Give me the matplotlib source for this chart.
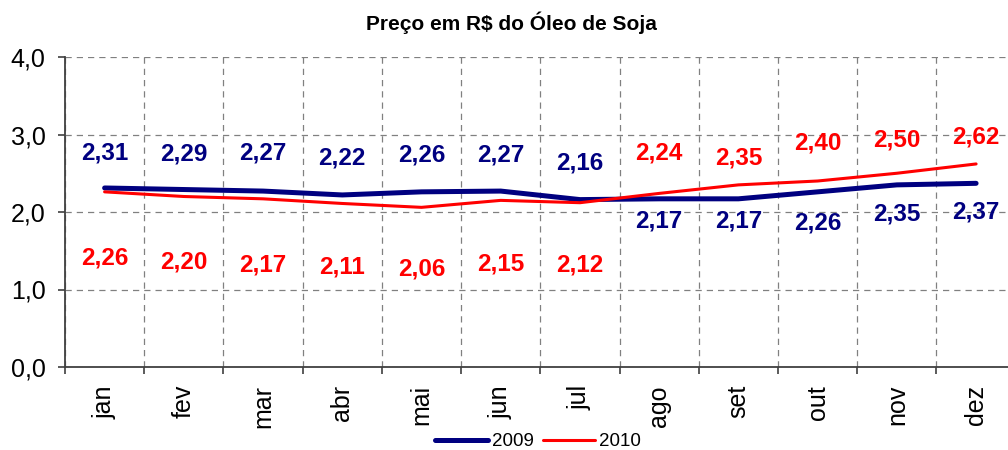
import matplotlib
matplotlib.use("Agg")
import matplotlib.pyplot as plt
import numpy as np

plt.rcParams['font.family'] = ['Liberation Sans', 'DejaVu Sans']

months = ['jan', 'fev', 'mar', 'abr', 'mai', 'jun', 'jul', 'ago', 'set', 'out', 'nov', 'dez']
prices_2009 = [2.31, 2.29, 2.27, 2.22, 2.26, 2.27, 2.16, 2.17, 2.17, 2.26, 2.35, 2.37]
prices_2010 = [2.26, 2.20, 2.17, 2.11, 2.06, 2.15, 2.12, 2.24, 2.35, 2.40, 2.50, 2.62]
yticks = [0.0, 1.0, 2.0, 3.0, 4.0]

# label offsets in pixels (style/position only)
off_2009 = [35, 36, 38, 37, 37, 36, 37, -22, -22, -31, -29, -29]
off_2010 = [-66, -66, -66, -64, -62, -64, -62, 40, 27, 38, 33, 27]

NAVY = '#000080'
RED = '#FF0000'

fig = plt.figure(figsize=(10.08, 4.5), dpi=100)
ax = fig.add_axes([65/1008, 83/450, 950.7/1008, 310/450])

x = np.arange(len(months))
l1, = ax.plot(x, prices_2009, color=NAVY, lw=3.6, solid_capstyle='round', zorder=3, label='2009')
l2, = ax.plot(x, prices_2010, color=RED, lw=2.2, solid_capstyle='round', zorder=4, label='2010')

for xi, v, o in zip(x, prices_2009, off_2009):
    ax.annotate(f"{v:.2f}".replace('.', ','), (xi, v), xytext=(0, o), textcoords='offset pixels',
                ha='center', va='center', fontsize=17.5, fontweight='bold', color=NAVY)
for xi, v, o in zip(x, prices_2010, off_2010):
    ax.annotate(f"{v:.2f}".replace('.', ','), (xi, v), xytext=(0, o), textcoords='offset pixels',
                ha='center', va='center', fontsize=17.5, fontweight='bold', color=RED)

ax.set_xlim(-0.5, len(months) - 0.5)
ax.set_ylim(0, 4)
ax.set_yticks(yticks)
ax.set_yticklabels([f"{t:.1f}".replace('.', ',') for t in yticks], fontsize=18)

ax.set_xticks(np.arange(len(months) + 1) - 0.5)
ax.set_xticklabels([])
ax.set_xticks(x, minor=True)
ax.set_xticklabels(months, minor=True, rotation=90, fontsize=18, va='top', ha='center')
ax.tick_params(axis='x', which='minor', length=0, pad=13)
ax.tick_params(axis='x', which='major', length=5, width=1.2, color='#404040', direction='out')
ax.tick_params(axis='y', length=5, width=1.2, color='#404040', direction='out', pad=9)

ax.grid(True, which='major', axis='both', color='#808080', linestyle=(0, (5, 4)), lw=0.9)
ax.set_axisbelow(True)
for s in ['top', 'right']:
    ax.spines[s].set_visible(False)
for s in ['left', 'bottom']:
    ax.spines[s].set_color('#404040')
    ax.spines[s].set_linewidth(1.3)
    ax.spines[s].set_zorder(5)

fig.text(0.507, 0.949, 'Preço em R$ do Óleo de Soja', ha='center', va='center',
         fontsize=15, fontweight='bold')

fig.legend(handles=[l1, l2], loc='center', bbox_to_anchor=(0.534, 0.018), ncol=2,
           frameon=False, fontsize=13.5, handlelength=2.8, handletextpad=0.2,
           columnspacing=0.5, borderpad=0, borderaxespad=0)

fig.savefig('out.png', dpi=100)
